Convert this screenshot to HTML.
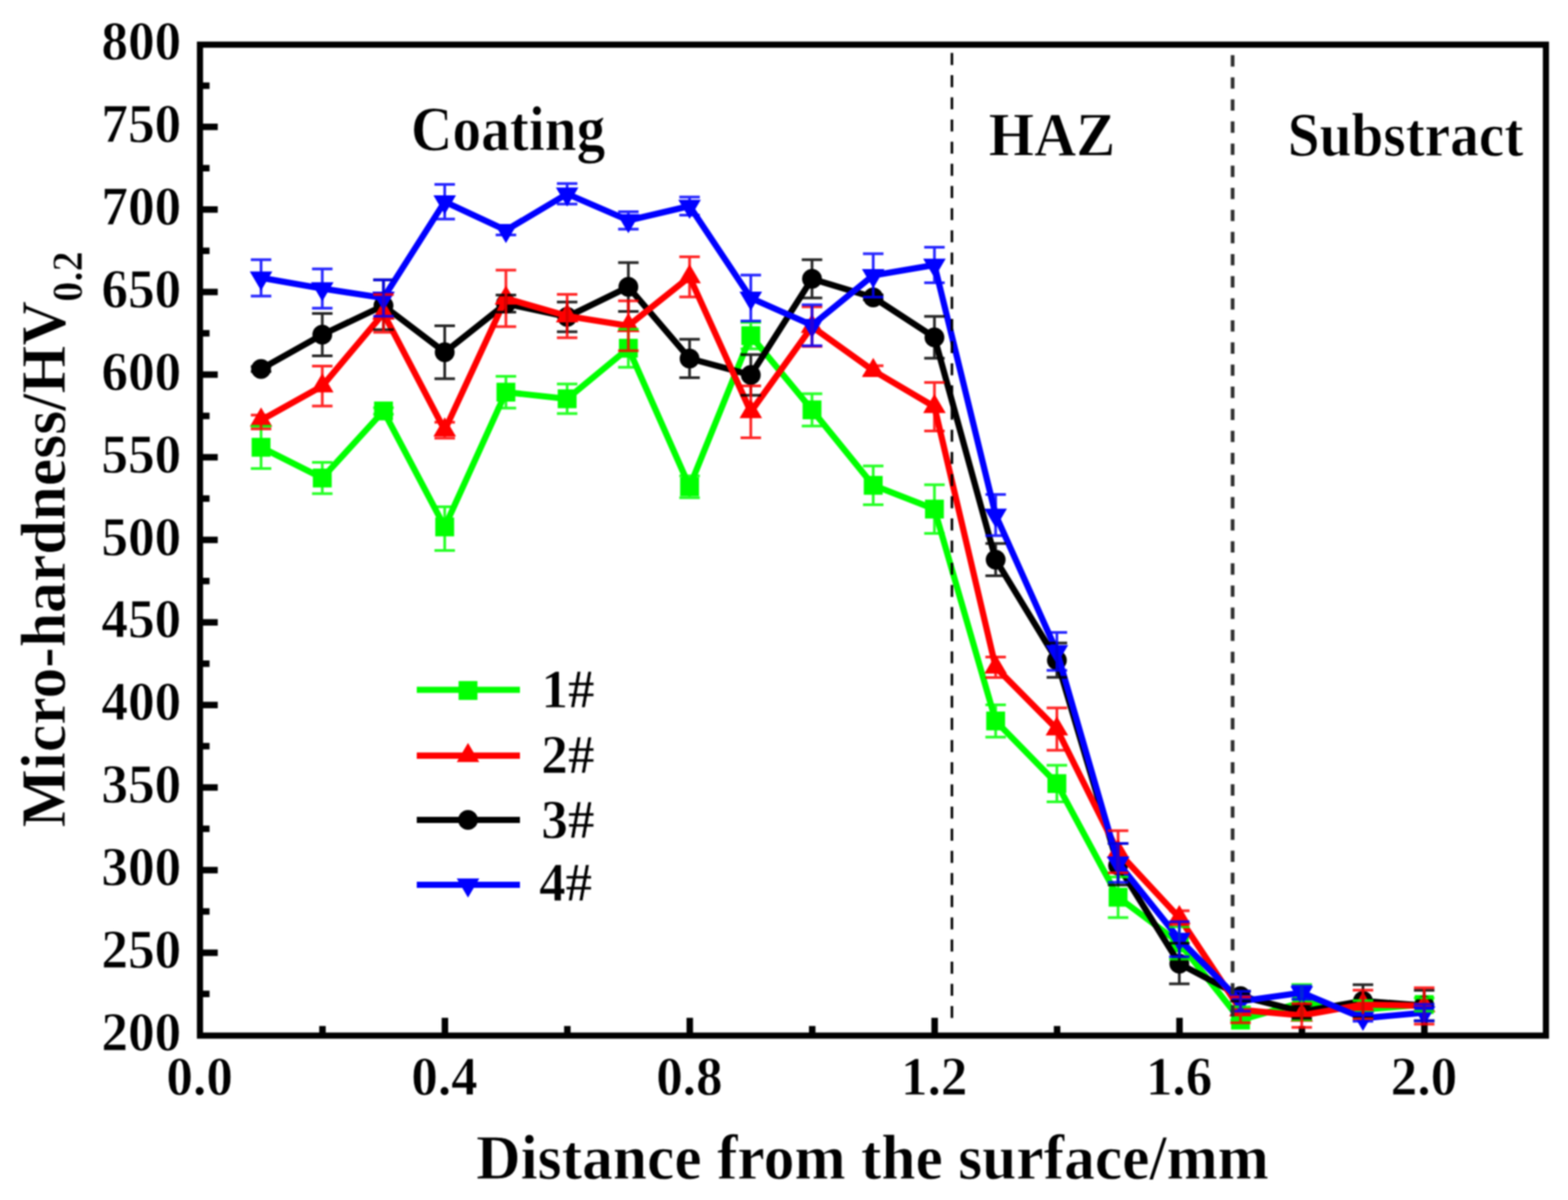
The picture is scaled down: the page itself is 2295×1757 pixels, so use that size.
<!DOCTYPE html>
<html lang="en"><head><meta charset="utf-8"><title>Micro-hardness distribution</title>
<style>html,body{margin:0;padding:0;background:#fff}body{width:2295px;height:1757px;overflow:hidden}svg{display:block;filter:blur(0.8px)}</style></head>
<body>
<svg width="2295" height="1757" viewBox="0 0 2295 1757">
<rect width="2295" height="1757" fill="#fff"/>
<rect x="292.7" y="65.4" width="1970.0" height="1450.9" fill="none" stroke="#000" stroke-width="9"/>
<path d="M292.7 1455.3h14M292.7 1394.9h26M292.7 1334.4h14M292.7 1274.0h26M292.7 1213.5h14M292.7 1153.1h26M292.7 1092.6h14M292.7 1032.2h26M292.7 971.7h14M292.7 911.3h26M292.7 850.8h14M292.7 790.4h26M292.7 729.9h14M292.7 669.4h26M292.7 609.0h14M292.7 548.5h26M292.7 488.1h14M292.7 427.6h26M292.7 367.2h14M292.7 306.7h26M292.7 246.3h14M292.7 185.8h26M292.7 125.4h14M472.0 1516.3v-14M651.2 1516.3v-26M830.4 1516.3v-14M1009.6 1516.3v-26M1188.8 1516.3v-14M1368.0 1516.3v-26M1547.2 1516.3v-14M1726.4 1516.3v-26M1905.6 1516.3v-14M2084.8 1516.3v-26" stroke="#000" stroke-width="9.5" fill="none"/>
<clipPath id="pa"><rect x="292.7" y="65.4" width="1970.0" height="1446.7"/></clipPath>
<g clip-path="url(#pa)">
<g><polyline points="382.1,654.9 471.7,699.9 561.3,601.7 650.9,771.5 740.5,574.2 830.1,583.9 919.7,509.9 1009.3,712.7 1098.9,491.5 1188.5,600.1 1278.1,710.6 1367.7,745.4 1457.3,1055.6 1546.9,1147.3 1636.5,1313.7 1726.1,1380.6 1815.7,1493.6 1905.3,1467.5 1994.9,1478.3 2084.5,1470.8" fill="none" stroke="#00ff00" stroke-width="9.1" stroke-linejoin="round"/><rect x="368.3" y="641.1" width="27.6" height="27.6" fill="#00ff00"/><rect x="457.9" y="686.1" width="27.6" height="27.6" fill="#00ff00"/><rect x="547.5" y="587.9" width="27.6" height="27.6" fill="#00ff00"/><rect x="637.1" y="757.7" width="27.6" height="27.6" fill="#00ff00"/><rect x="726.7" y="560.4" width="27.6" height="27.6" fill="#00ff00"/><rect x="816.3" y="570.1" width="27.6" height="27.6" fill="#00ff00"/><rect x="905.9" y="496.1" width="27.6" height="27.6" fill="#00ff00"/><rect x="995.5" y="698.9" width="27.6" height="27.6" fill="#00ff00"/><rect x="1085.1" y="477.7" width="27.6" height="27.6" fill="#00ff00"/><rect x="1174.7" y="586.3" width="27.6" height="27.6" fill="#00ff00"/><rect x="1264.3" y="696.8" width="27.6" height="27.6" fill="#00ff00"/><rect x="1353.9" y="731.6" width="27.6" height="27.6" fill="#00ff00"/><rect x="1443.5" y="1041.8" width="27.6" height="27.6" fill="#00ff00"/><rect x="1533.1" y="1133.5" width="27.6" height="27.6" fill="#00ff00"/><rect x="1622.7" y="1299.9" width="27.6" height="27.6" fill="#00ff00"/><rect x="1712.3" y="1366.8" width="27.6" height="27.6" fill="#00ff00"/><rect x="1801.9" y="1479.8" width="27.6" height="27.6" fill="#00ff00"/><rect x="1891.5" y="1453.7" width="27.6" height="27.6" fill="#00ff00"/><rect x="1981.1" y="1464.5" width="27.6" height="27.6" fill="#00ff00"/><rect x="2070.7" y="1457.0" width="27.6" height="27.6" fill="#00ff00"/></g>
<g><polyline points="382.1,540.3 471.7,490.0 561.3,447.5 650.9,515.7 740.5,444.6 830.1,463.9 919.7,420.1 1009.3,524.9 1098.9,549.0 1188.5,408.3 1278.1,435.4 1367.7,493.9 1457.3,819.4 1546.9,966.7 1636.5,1267.2 1726.1,1410.9 1815.7,1458.5 1905.3,1481.2 1994.9,1465.5 2084.5,1472.3" fill="none" stroke="#000000" stroke-width="9.1" stroke-linejoin="round"/><circle cx="382.1" cy="540.3" r="14.5" fill="#000000"/><circle cx="471.7" cy="490.0" r="14.5" fill="#000000"/><circle cx="561.3" cy="447.5" r="14.5" fill="#000000"/><circle cx="650.9" cy="515.7" r="14.5" fill="#000000"/><circle cx="740.5" cy="444.6" r="14.5" fill="#000000"/><circle cx="830.1" cy="463.9" r="14.5" fill="#000000"/><circle cx="919.7" cy="420.1" r="14.5" fill="#000000"/><circle cx="1009.3" cy="524.9" r="14.5" fill="#000000"/><circle cx="1098.9" cy="549.0" r="14.5" fill="#000000"/><circle cx="1188.5" cy="408.3" r="14.5" fill="#000000"/><circle cx="1278.1" cy="435.4" r="14.5" fill="#000000"/><circle cx="1367.7" cy="493.9" r="14.5" fill="#000000"/><circle cx="1457.3" cy="819.4" r="14.5" fill="#000000"/><circle cx="1546.9" cy="966.7" r="14.5" fill="#000000"/><circle cx="1636.5" cy="1267.2" r="14.5" fill="#000000"/><circle cx="1726.1" cy="1410.9" r="14.5" fill="#000000"/><circle cx="1815.7" cy="1458.5" r="14.5" fill="#000000"/><circle cx="1905.3" cy="1481.2" r="14.5" fill="#000000"/><circle cx="1994.9" cy="1465.5" r="14.5" fill="#000000"/><circle cx="2084.5" cy="1472.3" r="14.5" fill="#000000"/></g>
<g><polyline points="382.1,615.3 471.7,565.2 561.3,458.8 650.9,629.8 740.5,436.8 830.1,462.7 919.7,477.0 1009.3,405.4 1098.9,603.0 1188.5,478.2 1278.1,542.7 1367.7,595.5 1457.3,977.0 1546.9,1067.5 1636.5,1247.2 1726.1,1343.6 1815.7,1478.6 1905.3,1486.8 1994.9,1470.8 2084.5,1472.8" fill="none" stroke="#ff0000" stroke-width="9.1" stroke-linejoin="round"/><polygon points="382.1,596.6 398.6,624.6 365.6,624.6" fill="#ff0000"/><polygon points="471.7,546.5 488.2,574.5 455.2,574.5" fill="#ff0000"/><polygon points="561.3,440.1 577.8,468.1 544.8,468.1" fill="#ff0000"/><polygon points="650.9,611.1 667.4,639.1 634.4,639.1" fill="#ff0000"/><polygon points="740.5,418.1 757.0,446.1 724.0,446.1" fill="#ff0000"/><polygon points="830.1,444.0 846.6,472.0 813.6,472.0" fill="#ff0000"/><polygon points="919.7,458.3 936.2,486.3 903.2,486.3" fill="#ff0000"/><polygon points="1009.3,386.7 1025.8,414.7 992.8,414.7" fill="#ff0000"/><polygon points="1098.9,584.3 1115.4,612.3 1082.4,612.3" fill="#ff0000"/><polygon points="1188.5,459.5 1205.0,487.5 1172.0,487.5" fill="#ff0000"/><polygon points="1278.1,524.0 1294.6,552.0 1261.6,552.0" fill="#ff0000"/><polygon points="1367.7,576.8 1384.2,604.8 1351.2,604.8" fill="#ff0000"/><polygon points="1457.3,958.3 1473.8,986.3 1440.8,986.3" fill="#ff0000"/><polygon points="1546.9,1048.8 1563.4,1076.8 1530.4,1076.8" fill="#ff0000"/><polygon points="1636.5,1228.5 1653.0,1256.5 1620.0,1256.5" fill="#ff0000"/><polygon points="1726.1,1324.9 1742.6,1352.9 1709.6,1352.9" fill="#ff0000"/><polygon points="1815.7,1459.9 1832.2,1487.9 1799.2,1487.9" fill="#ff0000"/><polygon points="1905.3,1468.1 1921.8,1496.1 1888.8,1496.1" fill="#ff0000"/><polygon points="1994.9,1452.1 2011.4,1480.1 1978.4,1480.1" fill="#ff0000"/><polygon points="2084.5,1454.1 2101.0,1482.1 2068.0,1482.1" fill="#ff0000"/></g>
<g><polyline points="382.1,406.8 471.7,422.6 561.3,436.3 650.9,295.4 740.5,337.2 830.1,283.8 919.7,322.7 1009.3,301.7 1098.9,436.3 1188.5,476.2 1278.1,403.2 1367.7,388.0 1457.3,754.1 1546.9,953.8 1636.5,1263.4 1726.1,1375.1 1815.7,1466.0 1905.3,1453.4 1994.9,1490.9 2084.5,1482.7" fill="none" stroke="#0000ff" stroke-width="9.1" stroke-linejoin="round"/><polygon points="382.1,425.5 398.6,397.5 365.6,397.5" fill="#0000ff"/><polygon points="471.7,441.3 488.2,413.3 455.2,413.3" fill="#0000ff"/><polygon points="561.3,455.0 577.8,427.0 544.8,427.0" fill="#0000ff"/><polygon points="650.9,314.1 667.4,286.1 634.4,286.1" fill="#0000ff"/><polygon points="740.5,355.9 757.0,327.9 724.0,327.9" fill="#0000ff"/><polygon points="830.1,302.5 846.6,274.5 813.6,274.5" fill="#0000ff"/><polygon points="919.7,341.4 936.2,313.4 903.2,313.4" fill="#0000ff"/><polygon points="1009.3,320.4 1025.8,292.4 992.8,292.4" fill="#0000ff"/><polygon points="1098.9,455.0 1115.4,427.0 1082.4,427.0" fill="#0000ff"/><polygon points="1188.5,494.9 1205.0,466.9 1172.0,466.9" fill="#0000ff"/><polygon points="1278.1,421.9 1294.6,393.9 1261.6,393.9" fill="#0000ff"/><polygon points="1367.7,406.7 1384.2,378.7 1351.2,378.7" fill="#0000ff"/><polygon points="1457.3,772.8 1473.8,744.8 1440.8,744.8" fill="#0000ff"/><polygon points="1546.9,972.5 1563.4,944.5 1530.4,944.5" fill="#0000ff"/><polygon points="1636.5,1282.1 1653.0,1254.1 1620.0,1254.1" fill="#0000ff"/><polygon points="1726.1,1393.8 1742.6,1365.8 1709.6,1365.8" fill="#0000ff"/><polygon points="1815.7,1484.7 1832.2,1456.7 1799.2,1456.7" fill="#0000ff"/><polygon points="1905.3,1472.1 1921.8,1444.1 1888.8,1444.1" fill="#0000ff"/><polygon points="1994.9,1509.6 2011.4,1481.6 1978.4,1481.6" fill="#0000ff"/><polygon points="2084.5,1501.4 2101.0,1473.4 2068.0,1473.4" fill="#0000ff"/></g>
<path d="M382.1 624.0V685.9M367.1 624.0h30M367.1 685.9h30M471.7 677.1V722.8M456.7 677.1h30M456.7 722.8h30M561.3 596.9V606.6M546.3 596.9h30M546.3 606.6h30M650.9 742.0V806.1M635.9 742.0h30M635.9 806.1h30M740.5 551.0V597.4M725.5 551.0h30M725.5 597.4h30M830.1 562.3V605.4M815.1 562.3h30M815.1 605.4h30M919.7 482.1V537.7M904.7 482.1h30M904.7 537.7h30M1009.3 696.8V728.7M994.3 696.8h30M994.3 728.7h30M1098.9 472.1V510.8M1083.9 472.1h30M1083.9 510.8h30M1188.5 576.4V623.8M1173.5 576.4h30M1173.5 623.8h30M1278.1 682.3V738.9M1263.1 682.3h30M1263.1 738.9h30M1367.7 709.8V780.9M1352.7 709.8h30M1352.7 780.9h30M1457.3 1031.9V1079.3M1442.3 1031.9h30M1442.3 1079.3h30M1546.9 1120.4V1174.1M1531.9 1120.4h30M1531.9 1174.1h30M1636.5 1283.9V1343.4M1621.5 1283.9h30M1621.5 1343.4h30M1726.1 1356.9V1404.3M1711.1 1356.9h30M1711.1 1404.3h30M1815.7 1474.2V1493.6M1800.7 1474.2h30M1800.7 1493.6h30M1905.3 1441.6V1493.3M1890.3 1441.6h30M1890.3 1493.3h30M1994.9 1465.0V1491.6M1979.9 1465.0h30M1979.9 1491.6h30M2084.5 1461.2V1480.5M2069.5 1461.2h30M2069.5 1480.5h30" stroke="#00ff00" stroke-width="4.0" stroke-opacity="0.85" fill="none"/>
<path d="M382.1 536.7V544.0M367.1 536.7h30M367.1 544.0h30M471.7 459.1V521.0M456.7 459.1h30M456.7 521.0h30M561.3 409.7V482.8M546.3 409.7h30M546.3 482.8h30M650.9 477.0V554.4M635.9 477.0h30M635.9 554.4h30M740.5 432.0V457.1M725.5 432.0h30M725.5 457.1h30M830.1 442.2V485.7M815.1 442.2h30M815.1 485.7h30M919.7 384.4V455.9M904.7 384.4h30M904.7 455.9h30M1009.3 496.8V552.9M994.3 496.8h30M994.3 552.9h30M1098.9 519.3V578.8M1083.9 519.3h30M1083.9 578.8h30M1188.5 380.2V436.3M1173.5 380.2h30M1173.5 436.3h30M1278.1 431.8V439.0M1263.1 431.8h30M1263.1 439.0h30M1367.7 463.2V524.6M1352.7 463.2h30M1352.7 524.6h30M1457.3 795.7V843.1M1442.3 795.7h30M1442.3 843.1h30M1546.9 941.5V991.8M1531.9 941.5h30M1531.9 991.8h30M1636.5 1235.1V1295.8M1621.5 1235.1h30M1621.5 1295.8h30M1726.1 1381.1V1440.6M1711.1 1381.1h30M1711.1 1440.6h30M1815.7 1451.3V1465.8M1800.7 1451.3h30M1800.7 1465.8h30M1905.3 1471.6V1490.9M1890.3 1471.6h30M1890.3 1490.9h30M1994.9 1441.8V1489.2M1979.9 1441.8h30M1979.9 1489.2h30M2084.5 1450.0V1494.5M2069.5 1450.0h30M2069.5 1494.5h30" stroke="#000000" stroke-width="4.0" stroke-opacity="0.85" fill="none"/>
<path d="M382.1 607.8V627.9M367.1 607.8h30M367.1 627.9h30M471.7 536.0V594.5M456.7 536.0h30M456.7 594.5h30M561.3 431.3V486.4M546.3 431.3h30M546.3 486.4h30M650.9 618.2V641.4M635.9 618.2h30M635.9 641.4h30M740.5 395.5V478.2M725.5 395.5h30M725.5 478.2h30M830.1 431.0V494.4M815.1 431.0h30M815.1 494.4h30M919.7 440.5V513.5M904.7 440.5h30M904.7 513.5h30M1009.3 376.1V434.7M994.3 376.1h30M994.3 434.7h30M1098.9 565.0V640.9M1083.9 565.0h30M1083.9 640.9h30M1188.5 449.2V507.2M1173.5 449.2h30M1173.5 507.2h30M1278.1 535.5V550.0M1263.1 535.5h30M1263.1 550.0h30M1367.7 559.9V631.0M1352.7 559.9h30M1352.7 631.0h30M1457.3 962.1V992.0M1442.3 962.1h30M1442.3 992.0h30M1546.9 1036.5V1098.4M1531.9 1036.5h30M1531.9 1098.4h30M1636.5 1216.2V1278.1M1621.5 1216.2h30M1621.5 1278.1h30M1726.1 1333.5V1353.8M1711.1 1333.5h30M1711.1 1353.8h30M1815.7 1459.7V1497.4M1800.7 1459.7h30M1800.7 1497.4h30M1905.3 1469.4V1504.2M1890.3 1469.4h30M1890.3 1504.2h30M1994.9 1449.8V1491.9M1979.9 1449.8h30M1979.9 1491.9h30M2084.5 1446.2V1499.4M2069.5 1446.2h30M2069.5 1499.4h30" stroke="#ff0000" stroke-width="4.0" stroke-opacity="0.85" fill="none"/>
<path d="M382.1 380.2V433.4M367.1 380.2h30M367.1 433.4h30M471.7 393.8V451.3M456.7 393.8h30M456.7 451.3h30M561.3 409.7V462.9M546.3 409.7h30M546.3 462.9h30M650.9 270.0V320.8M635.9 270.0h30M635.9 320.8h30M740.5 330.4V344.0M725.5 330.4h30M725.5 344.0h30M830.1 268.8V298.8M815.1 268.8h30M815.1 298.8h30M919.7 309.9V335.5M904.7 309.9h30M904.7 335.5h30M1009.3 288.4V315.0M994.3 288.4h30M994.3 315.0h30M1098.9 402.7V470.0M1083.9 402.7h30M1083.9 470.0h30M1188.5 446.3V506.2M1173.5 446.3h30M1173.5 506.2h30M1278.1 371.5V434.9M1263.1 371.5h30M1263.1 434.9h30M1367.7 361.9V414.1M1352.7 361.9h30M1352.7 414.1h30M1457.3 723.9V784.3M1442.3 723.9h30M1442.3 784.3h30M1546.9 926.0V981.6M1531.9 926.0h30M1531.9 981.6h30M1636.5 1235.1V1291.7M1621.5 1235.1h30M1621.5 1291.7h30M1726.1 1349.4V1400.7M1711.1 1349.4h30M1711.1 1400.7h30M1815.7 1451.5V1480.5M1800.7 1451.5h30M1800.7 1480.5h30M1905.3 1443.8V1463.1M1890.3 1443.8h30M1890.3 1463.1h30M1994.9 1486.6V1495.3M1979.9 1486.6h30M1979.9 1495.3h30M2084.5 1470.6V1494.8M2069.5 1470.6h30M2069.5 1494.8h30" stroke="#0000ff" stroke-width="4.0" stroke-opacity="0.85" fill="none"/>
</g>
<line x1="1393.3" y1="77.6" x2="1393.3" y2="1505" stroke="#000" stroke-width="3.7" stroke-dasharray="17.6 14.85"/>
<line x1="1804.1" y1="80.8" x2="1804.1" y2="1490" stroke="#2e2e2e" stroke-width="5.4" stroke-dasharray="16.6 15.75"/>
<text transform="translate(265.2,1537.9) scale(0.972,1.0)" text-anchor="end" font-family="'Liberation Serif', serif" font-weight="bold" font-size="80" fill="#000" stroke="#fff" stroke-width="0.9">200</text>
<text transform="translate(265.2,1417.0) scale(0.972,1.0)" text-anchor="end" font-family="'Liberation Serif', serif" font-weight="bold" font-size="80" fill="#000" stroke="#fff" stroke-width="0.9">250</text>
<text transform="translate(265.2,1296.1) scale(0.972,1.0)" text-anchor="end" font-family="'Liberation Serif', serif" font-weight="bold" font-size="80" fill="#000" stroke="#fff" stroke-width="0.9">300</text>
<text transform="translate(265.2,1175.2) scale(0.972,1.0)" text-anchor="end" font-family="'Liberation Serif', serif" font-weight="bold" font-size="80" fill="#000" stroke="#fff" stroke-width="0.9">350</text>
<text transform="translate(265.2,1054.3) scale(0.972,1.0)" text-anchor="end" font-family="'Liberation Serif', serif" font-weight="bold" font-size="80" fill="#000" stroke="#fff" stroke-width="0.9">400</text>
<text transform="translate(265.2,933.4) scale(0.972,1.0)" text-anchor="end" font-family="'Liberation Serif', serif" font-weight="bold" font-size="80" fill="#000" stroke="#fff" stroke-width="0.9">450</text>
<text transform="translate(265.2,812.5) scale(0.972,1.0)" text-anchor="end" font-family="'Liberation Serif', serif" font-weight="bold" font-size="80" fill="#000" stroke="#fff" stroke-width="0.9">500</text>
<text transform="translate(265.2,691.5) scale(0.972,1.0)" text-anchor="end" font-family="'Liberation Serif', serif" font-weight="bold" font-size="80" fill="#000" stroke="#fff" stroke-width="0.9">550</text>
<text transform="translate(265.2,570.6) scale(0.972,1.0)" text-anchor="end" font-family="'Liberation Serif', serif" font-weight="bold" font-size="80" fill="#000" stroke="#fff" stroke-width="0.9">600</text>
<text transform="translate(265.2,449.7) scale(0.972,1.0)" text-anchor="end" font-family="'Liberation Serif', serif" font-weight="bold" font-size="80" fill="#000" stroke="#fff" stroke-width="0.9">650</text>
<text transform="translate(265.2,328.8) scale(0.972,1.0)" text-anchor="end" font-family="'Liberation Serif', serif" font-weight="bold" font-size="80" fill="#000" stroke="#fff" stroke-width="0.9">700</text>
<text transform="translate(265.2,207.9) scale(0.972,1.0)" text-anchor="end" font-family="'Liberation Serif', serif" font-weight="bold" font-size="80" fill="#000" stroke="#fff" stroke-width="0.9">750</text>
<text transform="translate(265.2,87.0) scale(0.972,1.0)" text-anchor="end" font-family="'Liberation Serif', serif" font-weight="bold" font-size="80" fill="#000" stroke="#fff" stroke-width="0.9">800</text>
<text transform="translate(292.2,1603.2) scale(0.972,1.0)" text-anchor="middle" font-family="'Liberation Serif', serif" font-weight="bold" font-size="80" fill="#000" stroke="#fff" stroke-width="0.9">0.0</text>
<text transform="translate(650.6,1603.2) scale(0.972,1.0)" text-anchor="middle" font-family="'Liberation Serif', serif" font-weight="bold" font-size="80" fill="#000" stroke="#fff" stroke-width="0.9">0.4</text>
<text transform="translate(1009.0,1603.2) scale(0.972,1.0)" text-anchor="middle" font-family="'Liberation Serif', serif" font-weight="bold" font-size="80" fill="#000" stroke="#fff" stroke-width="0.9">0.8</text>
<text transform="translate(1367.4,1603.2) scale(0.972,1.0)" text-anchor="middle" font-family="'Liberation Serif', serif" font-weight="bold" font-size="80" fill="#000" stroke="#fff" stroke-width="0.9">1.2</text>
<text transform="translate(1725.8,1603.2) scale(0.972,1.0)" text-anchor="middle" font-family="'Liberation Serif', serif" font-weight="bold" font-size="80" fill="#000" stroke="#fff" stroke-width="0.9">1.6</text>
<text transform="translate(2084.2,1603.2) scale(0.972,1.0)" text-anchor="middle" font-family="'Liberation Serif', serif" font-weight="bold" font-size="80" fill="#000" stroke="#fff" stroke-width="0.9">2.0</text>
<text transform="translate(697.0,1725.6) scale(1.0,1.03)" text-anchor="start" font-family="'Liberation Serif', serif" font-weight="bold" font-size="90.0" fill="#000" stroke="#fff" stroke-width="0.9">Distance from the surface/mm</text>
<text transform="translate(95.2,1211.6) rotate(-90) scale(1.0,1.02)" text-anchor="start" font-family="'Liberation Serif', serif" font-weight="bold" font-size="90.3" fill="#000" stroke="#fff" stroke-width="0.9">Micro-hardness/HV<tspan font-size="61.5" dy="24" dx="-1" textLength="74" lengthAdjust="spacingAndGlyphs">0.2</tspan></text>
<text transform="translate(601.6,219.8) scale(1.0,1.11)" text-anchor="start" font-family="'Liberation Serif', serif" font-weight="bold" font-size="83.9" fill="#000" stroke="#fff" stroke-width="0.9">Coating</text>
<text transform="translate(1447.0,228.0) scale(1.0,1.06)" text-anchor="start" font-family="'Liberation Serif', serif" font-weight="bold" font-size="85.5" fill="#000" stroke="#fff" stroke-width="0.9">HAZ</text>
<text transform="translate(1884.8,227.6) scale(1.0,1.095)" text-anchor="start" font-family="'Liberation Serif', serif" font-weight="bold" font-size="83.9" fill="#000" stroke="#fff" stroke-width="0.9">Substract</text>
<g font-family="'Liberation Serif', serif" font-weight="bold" font-size="78.5" fill="#000">
<line x1="610" y1="1010" x2="761" y2="1010" stroke="#00ff00" stroke-width="9.1"/>
<rect x="671.2" y="997.2" width="27.6" height="27.6" fill="#00ff00"/>
<text transform="translate(792.5,1036) scale(0.972,1.0)" text-anchor="start" font-family="'Liberation Serif', serif" font-weight="bold" font-size="80" fill="#000" stroke="#fff" stroke-width="0.9">1#</text>
<line x1="610" y1="1106.4" x2="761" y2="1106.4" stroke="#ff0000" stroke-width="9.1"/>
<polygon points="685.0,1087.7 701.5,1115.7 668.5,1115.7" fill="#ff0000"/>
<text transform="translate(792.3,1131.5) scale(0.972,1.0)" text-anchor="start" font-family="'Liberation Serif', serif" font-weight="bold" font-size="80" fill="#000" stroke="#fff" stroke-width="0.9">2#</text>
<line x1="610" y1="1200.5" x2="761" y2="1200.5" stroke="#000000" stroke-width="9.1"/>
<circle cx="685.0" cy="1200.5" r="14.5" fill="#000000"/>
<text transform="translate(792.3,1226.5) scale(0.972,1.0)" text-anchor="start" font-family="'Liberation Serif', serif" font-weight="bold" font-size="80" fill="#000" stroke="#fff" stroke-width="0.9">3#</text>
<line x1="610" y1="1295.5" x2="761" y2="1295.5" stroke="#0000ff" stroke-width="9.1"/>
<polygon points="685.0,1314.2 701.5,1286.2 668.5,1286.2" fill="#0000ff"/>
<text transform="translate(789,1319) scale(0.972,1.0)" text-anchor="start" font-family="'Liberation Serif', serif" font-weight="bold" font-size="80" fill="#000" stroke="#fff" stroke-width="0.9">4#</text>
</g>
</svg>
</body></html>
